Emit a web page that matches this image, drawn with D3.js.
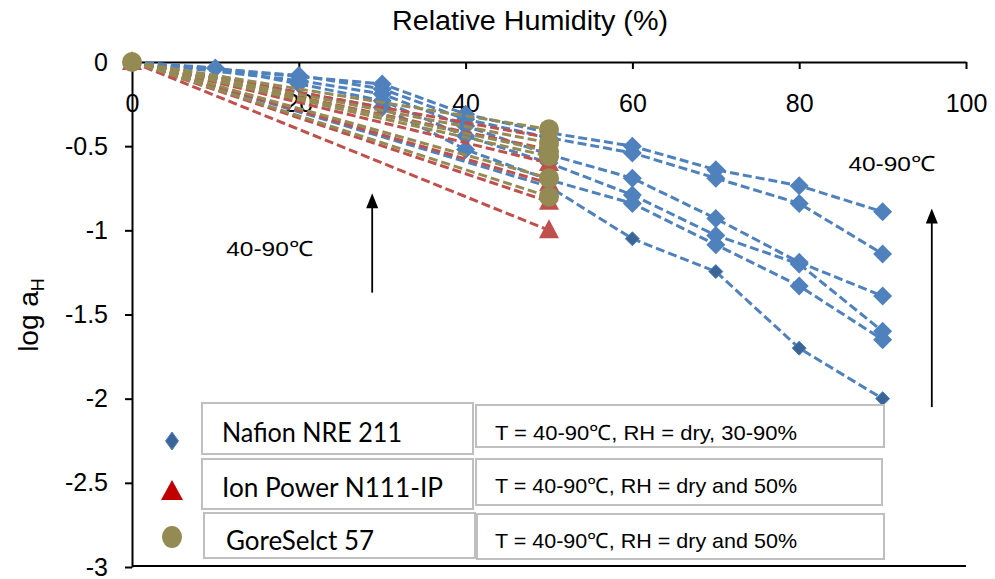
<!DOCTYPE html>
<html>
<head>
<meta charset="utf-8">
<script src="https://cdn.jsdelivr.net/npm/d3@7"></script>
<style>
  body { margin: 0; background: #fff; }
  svg { display: block; }
  .axis text { font-family: "Liberation Sans", Arial, sans-serif; font-size: 25px; fill: #000; }
  .axis path, .axis line { stroke: #000; stroke-width: 2; }
</style>
</head>
<body>
<script>
const width = 995;
const height = 579;

const xTicks = [0, 20, 40, 60, 80, 100];
const yTicks = [0, -0.5, -1, -1.5, -2, -2.5, -3];

// Nafion NRE 211, one series per temperature 40-90 C: [RH, log aH]
const nafion = [
  [[0, 0], [30, -0.13], [40, -0.31], [50, -0.42], [60, -0.50], [70, -0.64], [80, -0.735], [90, -0.89]],
  [[0, 0], [20, -0.08], [30, -0.16], [40, -0.34], [50, -0.45], [60, -0.54], [70, -0.69], [80, -0.84], [90, -1.14]],
  [[0, 0], [20, -0.11], [30, -0.19], [40, -0.38], [50, -0.55], [60, -0.69], [70, -0.93], [80, -1.19], [90, -1.39]],
  [[0, 0], [10, -0.035], [20, -0.13], [30, -0.23], [40, -0.44], [50, -0.60], [60, -0.79], [70, -1.03], [80, -1.20], [90, -1.60]],
  [[0, 0], [30, -0.27], [40, -0.52], [50, -0.70], [60, -0.84], [70, -1.085], [80, -1.33], [90, -1.65]]
];
const nafionDry = [[0, 0], [50, -0.74], [60, -1.05], [70, -1.245], [80, -1.70], [90, -2.0]];

// Ion Power N111-IP and GoreSelect 57: dry and 50% RH
const ionPower50 = [-0.45, -0.52, -0.60, -0.72, -0.83, -1.0];
const gore50 = [-0.40, -0.48, -0.53, -0.56, -0.69, -0.80];

const legendNames = ["Nafion NRE 211", "Ion Power N111-IP", "GoreSelct 57"];
const legendNotes = ["T = 40-90℃, RH = dry, 30-90%", "T = 40-90℃, RH = dry and 50%", "T = 40-90℃, RH = dry and 50%"];

const blue = "#4F81BD", darkBlue = "#3B6497", red = "#C0504D", gold = "#948A54";

const x = d3.scaleLinear().domain([0, 100]).range([132, 966]);
const y = d3.scaleLinear().domain([0, -3]).range([62, 567]);

const svg = d3.select("body").append("svg")
  .attr("width", width)
  .attr("height", height);

// title
svg.append("text")
  .attr("x", 530).attr("y", 30)
  .attr("text-anchor", "middle")
  .style("font-family", "Liberation Sans, Arial, sans-serif")
  .style("font-size", "27px")
  .attr("textLength", 276).attr("lengthAdjust", "spacingAndGlyphs")
  .text("Relative Humidity (%)");

// y label
const yl = svg.append("text")
  .attr("transform", "translate(38,315) rotate(-90)")
  .attr("text-anchor", "middle")
  .style("font-family", "Liberation Sans, Arial, sans-serif")
  .style("font-size", "28px");
yl.append("tspan").text("log a");
yl.append("tspan").attr("dy", 6).style("font-size", "18px").text("H");

// axes
svg.append("g").attr("class", "axis")
  .attr("transform", `translate(0,${y(0)})`)
  .call(d3.axisBottom(x).tickValues(xTicks).tickFormat(d3.format("d"))
    .tickSize(7).tickSizeOuter(0).tickPadding(25));

svg.append("g").attr("class", "axis")
  .attr("transform", `translate(${x(0)},0)`)
  .call(d3.axisLeft(y).tickValues(yTicks).tickFormat(d => d3.format("")(d).replace("−", "-"))
    .tickSize(7).tickSizeOuter(0).tickPadding(17));

// bottom border
svg.append("line")
  .attr("x1", x(0)).attr("x2", x(100))
  .attr("y1", y(-3) - 1).attr("y2", y(-3) - 1)
  .attr("stroke", "#000").attr("stroke-width", 2);

const line = d3.line().x(d => x(d[0])).y(d => y(d[1]));
const diamond = h => `M0,${-h}L${h},0L0,${h}L${-h},0Z`;

function drawLine(pts, color) {
  svg.append("path")
    .datum(pts)
    .attr("d", line)
    .attr("fill", "none")
    .attr("stroke", color)
    .attr("stroke-width", 3)
    .attr("stroke-dasharray", "9,4");
}

// Nafion
nafion.forEach(s => {
  drawLine(s, blue);
  svg.append("g").selectAll("path").data(s.slice(1)).join("path")
    .attr("transform", d => `translate(${x(d[0])},${y(d[1])})`)
    .attr("d", diamond(9.5))
    .attr("fill", blue);
});
drawLine(nafionDry, blue);
svg.append("g").selectAll("path").data(nafionDry.slice(2)).join("path")
  .attr("transform", d => `translate(${x(d[0])},${y(d[1])})`)
  .attr("d", diamond(7))
  .attr("fill", darkBlue).attr("stroke", blue).attr("stroke-width", 1);

// Ion Power
ionPower50.forEach(v => drawLine([[0, 0], [50, v]], red));
svg.append("g").selectAll("path").data(ionPower50).join("path")
  .attr("transform", d => `translate(${x(50)},${y(d)})`)
  .attr("d", "M0,-11L10,8L-10,8Z")
  .attr("fill", red);

// GoreSelect
gore50.forEach(v => drawLine([[0, 0], [50, v]], gold));
svg.append("g").selectAll("circle").data(gore50).join("circle")
  .attr("cx", x(50)).attr("cy", d => y(d)).attr("r", 10)
  .attr("fill", gold);

// dry points at origin
svg.append("path").attr("transform", `translate(${x(0)},${y(0)})`)
  .attr("d", "M0,-11L10,8L-10,8Z").attr("fill", red);
svg.append("circle").attr("cx", x(0)).attr("cy", y(0)).attr("r", 10).attr("fill", gold);

// annotations
const annoFont = "Liberation Sans, Arial, sans-serif";
function arrow(rh, v0, v1) {
  const ax = x(rh);
  svg.append("line")
    .attr("x1", ax).attr("x2", ax)
    .attr("y1", y(v0)).attr("y2", y(v1) + 12)
    .attr("stroke", "#000").attr("stroke-width", 1.8);
  svg.append("path")
    .attr("transform", `translate(${ax},${y(v1)})`)
    .attr("d", "M0,0L6,15L-6,15Z")
    .attr("fill", "#000");
}
arrow(28.8, -1.37, -0.78);
arrow(95.9, -2.05, -0.87);

svg.append("text").attr("x", x(11.3)).attr("y", y(-1.15))
  .style("font-family", annoFont).style("font-size", "21px")
  .attr("textLength", 87).attr("lengthAdjust", "spacingAndGlyphs")
  .text("40-90℃");
svg.append("text").attr("x", x(85.9)).attr("y", y(-0.65))
  .style("font-family", annoFont).style("font-size", "21px")
  .attr("textLength", 87).attr("lengthAdjust", "spacingAndGlyphs")
  .text("40-90℃");

// legend
const nameBoxes = [[202, 403, 271, 51], [202, 459, 271, 50], [204, 513, 271, 45]];
const noteBoxes = [[476, 405, 408, 42], [476, 459, 406, 46], [477, 514, 407, 45]];
const nameBase = [442, 497, 550];
const noteBase = [440, 493, 548];
const nameLen = [180, 221, 148];

nameBoxes.forEach((b, i) => {
  svg.append("rect").attr("x", b[0]).attr("y", b[1]).attr("width", b[2]).attr("height", b[3])
    .attr("fill", "#fff").attr("stroke", "#BFBFBF").attr("stroke-width", 2);
  svg.append("text").attr("x", 222 + (i === 2 ? 4 : 0)).attr("y", nameBase[i])
    .style("font-family", "Lato, 'Open Sans', sans-serif").style("font-size", "26px")
    .attr("textLength", nameLen[i]).attr("lengthAdjust", "spacingAndGlyphs")
    .text(legendNames[i]);
});
noteBoxes.forEach((b, i) => {
  svg.append("rect").attr("x", b[0]).attr("y", b[1]).attr("width", b[2]).attr("height", b[3])
    .attr("fill", "#fff").attr("stroke", "#BFBFBF").attr("stroke-width", 2);
  svg.append("text").attr("x", 495).attr("y", noteBase[i])
    .style("font-family", "'Liberation Sans Narrow', 'Liberation Sans', sans-serif").style("font-size", "21px")
    .attr("textLength", 302).attr("lengthAdjust", "spacingAndGlyphs")
    .text(legendNotes[i]);
});

svg.append("path").attr("transform", "translate(172,441)")
  .attr("d", "M0,-9L6.5,0L0,9L-6.5,0Z")
  .attr("fill", darkBlue).attr("stroke", blue).attr("stroke-width", 1);
svg.append("path").attr("transform", "translate(172,491)")
  .attr("d", "M0,-11L11,9L-11,9Z")
  .attr("fill", "#C00000");
svg.append("ellipse").attr("cx", 172).attr("cy", 537).attr("rx", 10).attr("ry", 11)
  .attr("fill", gold);
</script>
</body>
</html>
